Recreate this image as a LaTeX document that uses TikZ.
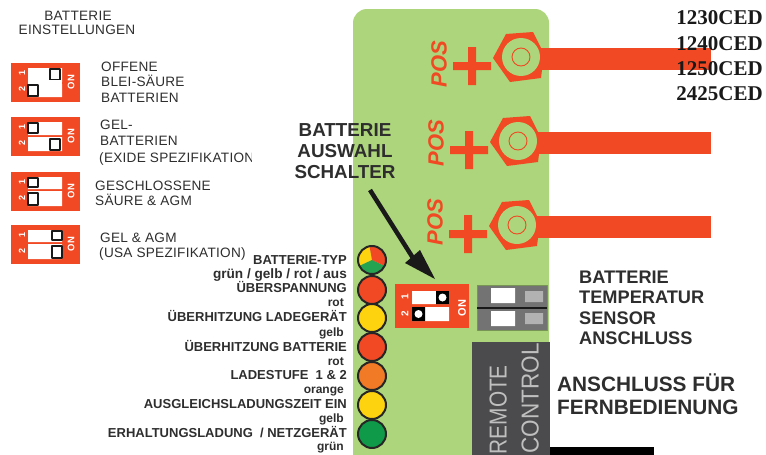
\documentclass[tikz,border=0pt]{standalone}
\usepackage{fontspec}
\setmainfont{Liberation Sans}
\newfontfamily\modelfont{Liberation Serif}
\newfontfamily\spacedfont[LetterSpace=2]{Liberation Sans}
\definecolor{panelgreen}{HTML}{ADD57B}
\definecolor{swred}{HTML}{F04923}
\definecolor{ledyellow}{HTML}{FDD20F}
\definecolor{ledorange}{HTML}{F07A26}
\definecolor{ledgreen}{HTML}{0E9A48}
\definecolor{remotegrey}{HTML}{4B4A4C}
\definecolor{textgrey}{HTML}{2E2E2E}
\tikzset{
	leftlabel/.style={anchor=mid west,yshift=-1.6pt,inner sep=0pt,text=textgrey,font=\spacedfont\fontsize{13.6}{15}\selectfont},
	ledname/.style={anchor=mid east,yshift=-2pt,inner sep=0pt,text=textgrey,font=\bfseries\fontsize{13}{14}\selectfont},
	ledcolor/.style={anchor=mid east,yshift=-2pt,inner sep=0pt,text=textgrey,font=\bfseries\fontsize{12}{13}\selectfont},
	sidelabel/.style={anchor=mid west,yshift=-3pt,inner sep=0pt,text=textgrey,font=\bfseries\fontsize{18.2}{20}\selectfont},
	biglabel/.style={anchor=mid west,yshift=-4pt,inner sep=0pt,text=textgrey,font=\bfseries\fontsize{20.8}{23}\selectfont},
	modelname/.style={anchor=base east,inner sep=0pt,text=black!90,font=\modelfont\bfseries\fontsize{21}{23}\selectfont},
	swlabel/.style={rotate=90,inner sep=0pt,text=white,font=\bfseries\fontsize{9}{10}\selectfont},
	led/.style={draw=black!85,line width=2pt},
	knob/.style={draw=black!90,fill=white,line width=1.7pt}
}
\begin{document}
\begin{tikzpicture}[line cap=round,line join=round,>=stealth,x=1pt,y=-1pt]
	\useasboundingbox (0,0) rectangle (766,455);
	\fill[white] (0,0) rectangle (766,455);
	% panel
	\fill[panelgreen] (353,455) [rounded corners=14] -- (353,9) -- (549,9) [sharp corners] -- (549,455) -- cycle;
	% terminals
	\foreach \tx/\ty/\pdy in {521/57/7, 518/141/2, 517/225/-3} {
		\begin{scope}[shift={(\tx,\ty)}]
			\fill[swred] (19,-9) rectangle (\tx*-1+711,13);
			\fill[swred] (-28,1) -- (-15,-23) -- (12,-25) -- (23,-3) -- (20,21) -- (-11,25) -- cycle;
			\fill[panelgreen] (0,0) circle (19);
			\draw[swred,line width=0.9pt] (0,0) circle (9);
			\fill[swred] (-68,5) rectangle (-30,13) (-53,-10) rectangle (-45,28);
			\node[rotate=90,inner sep=0pt,text=swred,font=\bfseries\itshape\fontsize{22}{23}\selectfont] (pos\tx) at (-82,\pdy) {POS};
		\end{scope}
	}
	% models
	\node[modelname] (m1) at (763,24) {1230CED};
	\node[modelname] (m2) at (763,50) {1240CED};
	\node[modelname] (m3) at (763,75) {1250CED};
	\node[modelname] (m4) at (763,100) {2425CED};
	% left column
	\node[leftlabel,anchor=mid] (head1) at (78,16) {BATTERIE};
	\node[leftlabel,anchor=mid] (head2) at (77,30) {EINSTELLUNGEN};
	\foreach \by/\ka/\kb/\kc in {63/50/28/21, 117/28/50/20, 172/28/28/19, 225/52/52/19} {
		\fill[swred] (11,\by) rectangle (80,\by+39);
		\fill[white] (28,\by+5) rectangle (62,\by+\kc-2) (28,\by+\kc) rectangle (62,\by+34);
		\draw[knob] (\ka,\by+6) rectangle (\ka+10,\by+\kc-4);
		\draw[knob] (\kb,\by+\kc+2) rectangle (\kb+10,\by+33);
		\node[swlabel] (one\by) at (22,\by+10) {1};
		\node[swlabel] (two\by) at (22,\by+26) {2};
		\node[swlabel,font=\bfseries\fontsize{9.5}{10}\selectfont] (on\by) at (71,\by+19) {ON};
	}
	\fill[white] (28,80) rectangle (62,86);
	\draw[knob] (28,85) rectangle (38,96);
	\node[leftlabel] (a1) at (101,67) {OFFENE};
	\node[leftlabel] (a2) at (101,82) {BLEI-SÄURE};
	\node[leftlabel] (a3) at (101,98) {BATTERIEN};
	\node[leftlabel] (b1) at (100,125) {GEL-};
	\node[leftlabel] (b2) at (100,141) {BATTERIEN};
	\begin{scope}
		\clip (90,148) rectangle (251,168);
		\node[leftlabel] (b3) at (99,158) {(EXIDE SPEZIFIKATION};
	\end{scope}
	\node[leftlabel] (c1) at (95,186) {GESCHLOSSENE};
	\node[leftlabel] (c2) at (95,201) {SÄURE \& AGM};
	\node[leftlabel] (d1) at (100,238) {GEL \& AGM};
	\node[leftlabel] (d2) at (99,253) {(USA SPEZIFIKATION)};
	% leds
	\foreach \ly/\lc in {290/swred, 318/ledyellow, 347/swred, 376/ledorange, 405/ledyellow, 434/ledgreen}
		\draw[led,fill=\lc] (372,\ly) circle (14);
	\fill[ledyellow] (372,260) -- +(-100:14) arc (-100:-205:14) -- cycle;
	\fill[ledgreen!85!panelgreen] (372,260) -- +(-205:14) arc (-205:-335:14) -- cycle;
	\fill[swred] (372,260) -- +(-335:14) arc (-335:-460:14) -- cycle;
	\draw[led] (372,260) circle (14);
	\node[ledname] (t1) at (347,260) {BATTERIE-TYP};
	\node[ledcolor,font=\bfseries\fontsize{13.6}{15}\selectfont] (s1) at (347,274) {grün / gelb / rot / aus};
	\node[ledname] (t2) at (347,288) {ÜBERSPANNUNG};
	\node[ledcolor] (s2) at (344,302) {rot};
	\node[ledname] (t3) at (347,317) {ÜBERHITZUNG LADEGERÄT};
	\node[ledcolor] (s3) at (344,332) {gelb};
	\node[ledname] (t4) at (347,347) {ÜBERHITZUNG BATTERIE};
	\node[ledcolor] (s4) at (344,361) {rot};
	\node[ledname] (t5) at (347,375) {LADESTUFE\ \ 1 \& 2};
	\node[ledcolor] (s5) at (344,389) {orange};
	\node[ledname] (t6) at (347,404) {AUSGLEICHSLADUNGSZEIT EIN};
	\node[ledcolor] (s6) at (344,418) {gelb};
	\node[ledname] (t7) at (347,433) {ERHALTUNGSLADUNG\ \ / NETZGERÄT};
	\node[ledcolor] (s7) at (344,446) {grün};
	% selector switch
	\fill[swred] (395,284) rectangle (469,328);
	\fill[white] (412,291) rectangle (449,304) (412,307) rectangle (449,321);
	\fill[black] (436,291) rectangle (449,304) (412,307) rectangle (425,321);
	\fill[white] (442.5,297.5) circle (4) (418.5,314) circle (4);
	\node[swlabel,font=\bfseries\fontsize{10}{11}\selectfont] (sel1) at (405,297) {1};
	\node[swlabel,font=\bfseries\fontsize{10}{11}\selectfont] (sel2) at (405,314) {2};
	\node[swlabel,font=\bfseries\fontsize{11}{12}\selectfont] (selon) at (462,308) {ON};
	\node[anchor=center,align=center,inner sep=0pt,text=textgrey,font=\bfseries\fontsize{18.8}{21.3}\selectfont] (schalter) at (345,151) {BATTERIE\\AUSWAHL\\SCHALTER};
	\coordinate (arrowstart) at (370,190);
	\coordinate (arrowtip) at (435,279);
	\draw[line width=4.5pt,black!90,line cap=butt] (arrowstart) -- (413,258);
	\fill[black!90] (arrowtip) -- (405,263) -- (420,250) -- cycle;
	% sensor connector
	\fill[black!55,draw=panelgreen!70!black,line width=0.5pt] (477,285) rectangle (547,330);
	\fill[black!90] (477,306.5) rectangle (547,308.5);
	\fill[white] (491,288) rectangle (515,303) (491,311) rectangle (515,326);
	\fill[black!30] (525,291) rectangle (543,302) (525,313) rectangle (543,324);
	\node[sidelabel] (tempa) at (579,278) {BATTERIE};
	\node[sidelabel] (tempb) at (579,298) {TEMPERATUR};
	\node[sidelabel] (tempc) at (579,319) {SENSOR};
	\node[sidelabel] (tempd) at (579,339) {ANSCHLUSS};
	% remote control
	\fill[remotegrey] (472,342) rectangle (550,455);
	\node[rotate=90,xscale=0.85,anchor=mid east,inner sep=0pt,text=black!25,font=\fontsize{24.5}{26}\selectfont] (remote) at (504,365) {REMOTE};
	\node[rotate=90,xscale=0.92,anchor=mid east,inner sep=0pt,text=black!25,font=\fontsize{24.5}{26}\selectfont] (control) at (536,343) {CONTROL};
	\node[biglabel] (ansa) at (557,385) {ANSCHLUSS FÜR};
	\node[biglabel] (ansb) at (557,408) {FERNBEDIENUNG};
	\fill[black] (550,447) rectangle (654,455);
\end{tikzpicture}
\end{document}
